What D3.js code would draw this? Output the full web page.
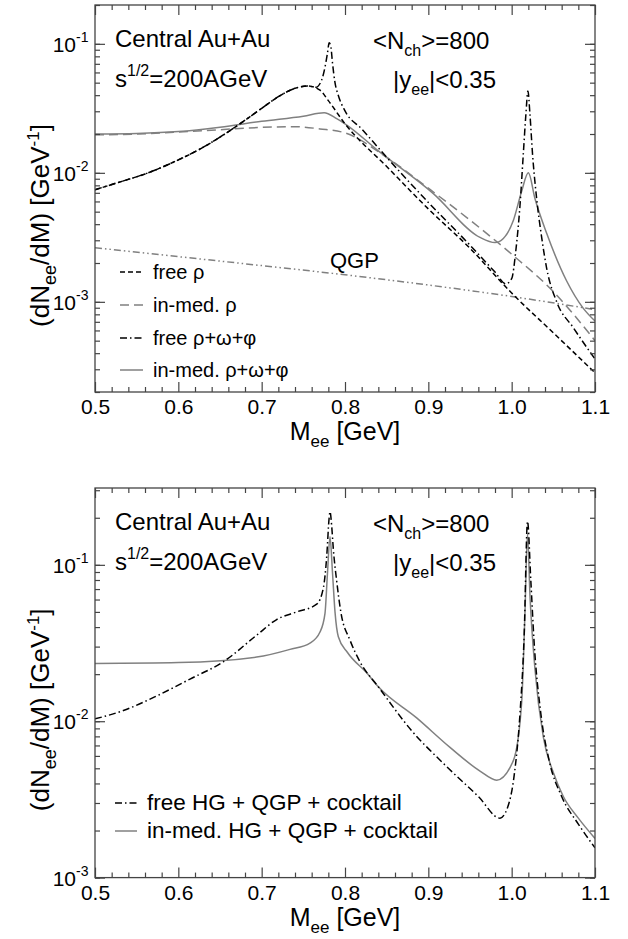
<!DOCTYPE html>
<meta charset="utf-8">
<style>
body { margin: 0; background: #fff; }
svg text { font-family: "Liberation Sans", Arial, sans-serif; fill: #000; }
.frame { fill: none; stroke: #444; stroke-width: 1.3; }
.axis path { display: none; }
.axis line { stroke: #444; stroke-width: 1.2; }
.curve { fill: none; stroke-width: 1.5; }
</style>
<body></body>
<script src="https://d3js.org/d3.v7.min.js"></script>
<script>

// ---- top panel: rho / omega / phi contributions ----
var mFreeRho   = [0.50, 0.53, 0.56, 0.60, 0.63, 0.665, 0.70, 0.72, 0.74, 0.755, 0.77, 0.78, 0.80, 0.85, 0.90, 0.95, 1.00, 1.05, 1.10];
var freeRho    = [7.4e-3, 8.5e-3, 9.8e-3, 1.26e-2, 1.58e-2, 2.19e-2, 3.16e-2, 3.89e-2, 4.52e-2, 4.72e-2, 4.37e-2, 3.63e-2, 2.40e-2, 1.12e-2, 5.25e-3, 2.6e-3, 1.17e-3, 5.75e-4, 2.82e-4];

var mInmedRho  = [0.50, 0.55, 0.60, 0.65, 0.70, 0.74, 0.77, 0.80, 0.85, 0.90, 0.95, 1.00, 1.05, 1.10];
var inmedRho   = [1.97e-2, 2.0e-2, 2.07e-2, 2.16e-2, 2.25e-2, 2.28e-2, 2.19e-2, 2.04e-2, 1.32e-2, 7.6e-3, 4.3e-3, 2.34e-3, 1.2e-3, 5.0e-4];

var mFreeAll   = [0.50, 0.53, 0.56, 0.60, 0.63, 0.665, 0.70, 0.72, 0.74, 0.755, 0.765, 0.772, 0.776, 0.779, 0.781, 0.783, 0.785, 0.788, 0.792, 0.80, 0.82, 0.85, 0.90, 0.95, 0.98, 0.993, 1.000, 1.005, 1.010, 1.014, 1.017, 1.0195, 1.022, 1.025, 1.030, 1.036, 1.042, 1.054, 1.074, 1.10];
var freeAll    = [7.4e-3, 8.5e-3, 9.8e-3, 1.26e-2, 1.58e-2, 2.19e-2, 3.16e-2, 3.89e-2, 4.52e-2, 4.72e-2, 4.6e-2, 5.25e-2, 6.6e-2, 8.5e-2, 0.102, 9.5e-2, 7.1e-2, 5.0e-2, 3.98e-2, 3.02e-2, 2.19e-2, 1.32e-2, 5.9e-3, 2.75e-3, 1.70e-3, 1.38e-3, 1.51e-3, 2.5e-3, 5.6e-3, 1.41e-2, 2.8e-2, 4.3e-2, 2.8e-2, 1.41e-2, 6.3e-3, 3.16e-3, 1.82e-3, 1.0e-3, 6.3e-4, 3.6e-4];

var mInmedAll  = [0.50, 0.55, 0.60, 0.65, 0.70, 0.75, 0.775, 0.79, 0.80, 0.84, 0.906, 0.962, 0.98, 0.99, 1.002, 1.012, 1.02, 1.028, 1.042, 1.066, 1.086, 1.10];
var inmedAll   = [2.0e-2, 2.02e-2, 2.09e-2, 2.26e-2, 2.51e-2, 2.75e-2, 2.92e-2, 2.63e-2, 2.40e-2, 1.48e-2, 6.9e-3, 3.16e-3, 2.88e-3, 3.1e-3, 4.27e-3, 7.2e-3, 1.0e-2, 6.3e-3, 3.4e-3, 1.45e-3, 8.9e-4, 7.1e-4];

var mQgp       = [0.50, 0.60, 0.70, 0.80, 0.90, 1.00, 1.10];
var qgp        = [2.63e-3, 2.24e-3, 1.91e-3, 1.62e-3, 1.35e-3, 1.10e-3, 8.7e-4];

// ---- bottom panel: HG + QGP + cocktail ----
var mFreeHG    = [0.50, 0.534, 0.574, 0.614, 0.654, 0.694, 0.718, 0.742, 0.766, 0.774, 0.778, 0.781, 0.782, 0.784, 0.786, 0.790, 0.795, 0.806, 0.818, 0.84, 0.88, 0.92, 0.96, 0.986, 0.995, 1.003, 1.010, 1.015, 1.019, 1.023, 1.027, 1.035, 1.045, 1.06, 1.08, 1.10];
var freeHG     = [1.035e-2, 1.17e-2, 1.45e-2, 1.86e-2, 2.4e-2, 3.55e-2, 4.47e-2, 5.0e-2, 5.6e-2, 7.1e-2, 0.112, 0.2, 0.219, 0.178, 0.126, 7.9e-2, 5.0e-2, 3.3e-2, 2.4e-2, 1.66e-2, 8.7e-3, 5.25e-3, 3.3e-3, 2.4e-3, 2.8e-3, 4.5e-3, 1.12e-2, 3.55e-2, 0.19, 7.9e-2, 3.16e-2, 1.12e-2, 5.6e-3, 3.3e-3, 2.2e-3, 1.55e-3];

var mInmedHG   = [0.50, 0.60, 0.694, 0.734, 0.758, 0.770, 0.776, 0.779, 0.782, 0.785, 0.788, 0.792, 0.803, 0.826, 0.84, 0.886, 0.926, 0.962, 0.982, 1.002, 1.012, 1.016, 1.019, 1.022, 1.028, 1.038, 1.050, 1.062, 1.08, 1.10];
var inmedHG    = [2.34e-2, 2.37e-2, 2.57e-2, 2.88e-2, 3.16e-2, 3.72e-2, 4.9e-2, 8.9e-2, 0.151, 8.9e-2, 5.0e-2, 3.47e-2, 2.75e-2, 2.04e-2, 1.66e-2, 1.05e-2, 6.8e-3, 4.8e-3, 4.2e-3, 5.6e-3, 1.32e-2, 5.0e-2, 0.158, 6.3e-2, 2.14e-2, 7.9e-3, 4.7e-3, 3.3e-3, 2.4e-3, 1.78e-3];

// ticks
var xMajor = [0.5, 0.6, 0.7, 0.8, 0.9, 1.0, 1.1];
var xMinor = d3.range(0.52, 1.1, 0.02).filter(function(v) { return Math.abs(v * 10 - Math.round(v * 10)) > 1e-6; });

var width = 628, height = 939;

var svg = d3.select("body").append("svg")
    .attr("width", width)
    .attr("height", height);

var xScale = d3.scaleLinear().domain([0.5, 1.1]).range([95, 595]);

function logMinors(domain) {
  var out = [];
  for (var e = -4; e <= 0; e++) {
    for (var k = 1; k <= 9; k++) {
      var v = k * Math.pow(10, e);
      if (v >= domain[0] * 0.999 && v <= domain[1] * 1.001) out.push(v);
    }
  }
  return out;
}

function addSub(text, str, size, shift) {
  text.append("tspan").attr("font-size", size).attr("dy", shift).text(str);
}

function drawPanel(yScale, top, bottom, majors) {
  var left = xScale.range()[0], right = xScale.range()[1];
  var minors = logMinors(yScale.domain());

  // x axes (bottom with labels, top without)
  svg.append("g").attr("class", "axis")
      .attr("transform", "translate(0," + bottom + ")")
      .call(d3.axisBottom(xScale).tickValues(xMajor).tickSize(-10).tickPadding(7)
            .tickFormat(d3.format(".1f")))
      .selectAll("text").style("font-size", "21px").attr("font-family", null);
  svg.append("g").attr("class", "axis")
      .attr("transform", "translate(0," + bottom + ")")
      .call(d3.axisBottom(xScale).tickValues(xMinor).tickSize(-5).tickFormat(""));
  svg.append("g").attr("class", "axis")
      .attr("transform", "translate(0," + top + ")")
      .call(d3.axisTop(xScale).tickValues(xMajor).tickSize(-10).tickFormat(""));
  svg.append("g").attr("class", "axis")
      .attr("transform", "translate(0," + top + ")")
      .call(d3.axisTop(xScale).tickValues(xMinor).tickSize(-5).tickFormat(""));

  // y axes
  svg.append("g").attr("class", "axis")
      .attr("transform", "translate(" + left + ",0)")
      .call(d3.axisLeft(yScale).tickValues(majors).tickSize(-10).tickFormat(""));
  svg.append("g").attr("class", "axis")
      .attr("transform", "translate(" + left + ",0)")
      .call(d3.axisLeft(yScale).tickValues(minors).tickSize(-5).tickFormat(""));
  svg.append("g").attr("class", "axis")
      .attr("transform", "translate(" + right + ",0)")
      .call(d3.axisRight(yScale).tickValues(majors).tickSize(-10).tickFormat(""));
  svg.append("g").attr("class", "axis")
      .attr("transform", "translate(" + right + ",0)")
      .call(d3.axisRight(yScale).tickValues(minors).tickSize(-5).tickFormat(""));

  // y tick labels 10^n
  majors.forEach(function(v) {
    svg.append("text")
        .attr("x", 76)
        .attr("y", yScale(v) + 8)
        .attr("text-anchor", "end")
        .style("font-size", "21px")
        .text("10");
    svg.append("text")
        .attr("x", 76)
        .attr("y", yScale(v) - 2)
        .style("font-size", "14px")
        .text(String(Math.round(Math.log10(v))));
  });

  // frame
  svg.append("rect").attr("class", "frame")
      .attr("x", left).attr("y", top)
      .attr("width", right - left).attr("height", bottom - top);

  // x title
  var xt = svg.append("text")
      .attr("x", 345).attr("y", bottom + 48)
      .attr("text-anchor", "middle")
      .style("font-size", "25px")
      .text("M");
  addSub(xt, "ee", "17px", 7);
  xt.append("tspan").attr("dy", -7).text(" [GeV]");

  // y title
  var yt = svg.append("text")
      .attr("transform", "translate(49," + ((top + bottom) / 2 + 27) + ") rotate(-90)")
      .attr("text-anchor", "middle")
      .style("font-size", "26px")
      .text("(dN");
  addSub(yt, "ee", "18px", 7);
  yt.append("tspan").attr("dy", -7).text("/dM) [GeV");
  addSub(yt, "-1", "17px", -10);
  yt.append("tspan").attr("dy", 10).text("]");

  // annotations
  svg.append("text").attr("x", 115).attr("y", top + 42)
      .style("font-size", "24px").text("Central Au+Au");
  var s = svg.append("text").attr("x", 115).attr("y", top + 82)
      .style("font-size", "24px").text("s");
  addSub(s, "1/2", "16px", -11);
  s.append("tspan").attr("dy", 11).text("=200AGeV");
  var n = svg.append("text").attr("x", 373).attr("y", top + 44)
      .style("font-size", "24px").text("<N");
  addSub(n, "ch", "16px", 7);
  n.append("tspan").attr("dy", -7).text(">=800");
  var yy = svg.append("text").attr("x", 393).attr("y", top + 83)
      .style("font-size", "24px").text("|y");
  addSub(yy, "ee", "16px", 7);
  yy.append("tspan").attr("dy", -7).text("|<0.35");
}

function drawCurve(yScale, ms, vs, color, dash, clipId) {
  var pts = ms.map(function(m, i) { return [m, vs[i]]; });
  var line = d3.line()
      .x(function(d) { return xScale(d[0]); })
      .y(function(d) { return yScale(d[1]); })
      .curve(d3.curveMonotoneX);
  svg.append("path")
      .datum(pts)
      .attr("class", "curve")
      .attr("clip-path", "url(#" + clipId + ")")
      .attr("stroke", color)
      .attr("stroke-dasharray", dash)
      .attr("d", line);
}

function legendRow(x0, x1, y, color, dash, label, size) {
  svg.append("line")
      .attr("x1", x0).attr("x2", x1).attr("y1", y).attr("y2", y)
      .attr("stroke", color).attr("stroke-width", 1.5)
      .attr("stroke-dasharray", dash);
  svg.append("text").attr("x", x1 + 10).attr("y", y + 7)
      .style("font-size", size)
      .text(label);
}

var defs = svg.append("defs");
defs.append("clipPath").attr("id", "clipTop").append("rect")
    .attr("x", 95).attr("y", 5).attr("width", 500).attr("height", 387);
defs.append("clipPath").attr("id", "clipBot").append("rect")
    .attr("x", 95).attr("y", 488).attr("width", 500).attr("height", 389.6);

var gray = "#808080";
var dRho = "5,3", dMed = "9,5", dDashDot = "7,3,1.5,3", dQgp = "7,3,1.5,3,1.5,3";

// ---- top panel ----
var yTop = d3.scaleLog().domain([2e-4, 0.2]).range([392, 5]);
drawCurve(yTop, mQgp, qgp, gray, dQgp, "clipTop");
drawCurve(yTop, mInmedRho, inmedRho, gray, dMed, "clipTop");
drawCurve(yTop, mInmedAll, inmedAll, gray, null, "clipTop");
drawCurve(yTop, mFreeRho, freeRho, "#000", dRho, "clipTop");
drawCurve(yTop, mFreeAll, freeAll, "#000", dDashDot, "clipTop");
drawPanel(yTop, 5, 392, [1e-3, 1e-2, 1e-1]);

svg.append("text").attr("x", 330).attr("y", 268)
    .style("font-size", "22px").text("QGP");

legendRow(120, 143, 272, "#000", dRho, "free \u03c1", "20px");
legendRow(120, 143, 305, gray, dMed, "in-med. \u03c1", "20px");
legendRow(120, 143, 338, "#000", dDashDot, "free \u03c1+\u03c9+\u03c6", "20px");
legendRow(120, 143, 370, gray, null, "in-med. \u03c1+\u03c9+\u03c6", "20px");

// ---- bottom panel ----
var yBot = d3.scaleLog().domain([1e-3, 0.31]).range([877.6, 488]);
drawCurve(yBot, mInmedHG, inmedHG, gray, null, "clipBot");
drawCurve(yBot, mFreeHG, freeHG, "#000", dDashDot, "clipBot");
drawPanel(yBot, 488, 877.6, [1e-3, 1e-2, 1e-1]);

legendRow(115, 137, 803, "#000", dDashDot, "free HG + QGP + cocktail", "22.5px");
legendRow(115, 137, 831, gray, null, "in-med. HG + QGP + cocktail", "22.5px");

</script>
